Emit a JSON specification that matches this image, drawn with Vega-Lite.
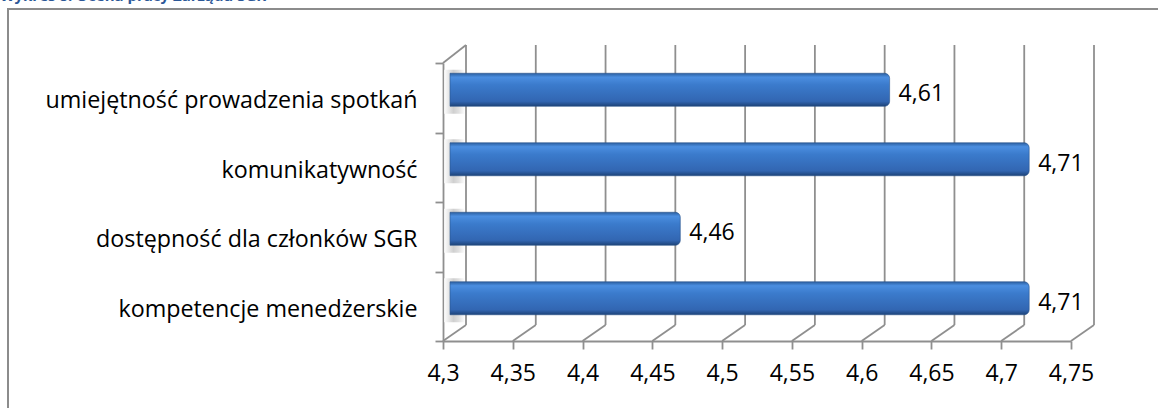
{
  "$schema": "https://vega.github.io/schema/vega-lite/v6.json",
  "width": 1160,
  "height": 410,
  "autosize": {"type": "none"},
  "padding": {"left": 8, "top": 9, "right": 0, "bottom": 0},
  "title": {
    "text": "Wykres 8. Ocena pracy Zarządu SGR",
    "anchor": "start",
    "frame": "group",
    "orient": "top",
    "offset": -22,
    "dx": -8,
    "baseline": "bottom",
    "font": "Open Sans",
    "fontSize": 15,
    "fontWeight": "bold",
    "color": "#2b5797"
  },
  "datasets": {
    "main": [
      {"kryterium": "umiejętność prowadzenia spotkań", "ocena": 4.61},
      {"kryterium": "komunikatywność", "ocena": 4.71},
      {"kryterium": "dostępność dla członków SGR", "ocena": 4.46},
      {"kryterium": "kompetencje menedżerskie", "ocena": 4.71}
    ],
    "ticks": [
      {"t": 4.3}, {"t": 4.35}, {"t": 4.4}, {"t": 4.45}, {"t": 4.5},
      {"t": 4.55}, {"t": 4.6}, {"t": 4.65}, {"t": 4.7}, {"t": 4.75}
    ]
  },
  "config": {
    "view": {"stroke": "#8c8c8c", "strokeWidth": 2},
    "font": "Open Sans",
    "locale": {"number": {"decimal": ",", "thousands": " ", "grouping": [3], "currency": ["", " zł"]}}
  },
  "layer": [
    {
      "data": {"name": "ticks"},
      "mark": {"type": "rule", "color": "#8f8f8f", "strokeWidth": 1.8, "xOffset": 23, "yOffset": -52.75, "y2Offset": 18.75},
      "encoding": {
        "x": {"field": "t", "type": "quantitative", "title": null},
        "y": {"datum": "umiejętność prowadzenia spotkań"},
        "y2": {"datum": "kompetencje menedżerskie"}
      }
    },
    {
      "data": {"name": "ticks"},
      "mark": {"type": "rule", "color": "#8f8f8f", "strokeWidth": 1.8, "x2Offset": 23, "yOffset": 34.75, "y2Offset": 18.75},
      "encoding": {
        "x": {"field": "t", "type": "quantitative", "title": null},
        "x2": {"field": "t"},
        "y": {"datum": "kompetencje menedżerskie"},
        "y2": {"datum": "kompetencje menedżerskie"}
      }
    },
    {
      "data": {"name": "ticks"},
      "transform": [{"filter": "datum.t == 4.3"}],
      "mark": {"type": "rule", "color": "#8f8f8f", "strokeWidth": 1.8, "x2Offset": 23, "yOffset": -34.75, "y2Offset": -52.75},
      "encoding": {
        "x": {"field": "t", "type": "quantitative", "title": null},
        "x2": {"field": "t"},
        "y": {"datum": "umiejętność prowadzenia spotkań"},
        "y2": {"datum": "umiejętność prowadzenia spotkań"}
      }
    },
    {
      "data": {"name": "main"},
      "mark": {
        "type": "bar",
        "size": 44,
        "yOffset": -6,
        "xOffset": 1,
        "x2Offset": 22,
        "fill": {
          "gradient": "linear",
          "x1": 0, "y1": 0, "x2": 1, "y2": 0,
          "stops": [
            {"offset": 0, "color": "#ffffff"},
            {"offset": 0.45, "color": "#c4c4c4"},
            {"offset": 0.7, "color": "#d8d8d8"},
            {"offset": 1, "color": "#ffffff"}
          ]
        },
        "fillOpacity": 0.8
      },
      "encoding": {
        "y": {"field": "kryterium", "type": "nominal", "title": null},
        "x": {"datum": 4.3, "type": "quantitative"},
        "x2": {"datum": 4.3}
      }
    },
    {
      "data": {"name": "main"},
      "mark": {
        "type": "bar",
        "size": 33,
        "yOffset": -8,
        "xOffset": 14,
        "x2Offset": 7,
        "cornerRadiusTopRight": 5,
        "cornerRadiusBottomRight": 5,
        "fill": {
          "gradient": "linear",
          "x1": 0, "y1": 0, "x2": 0, "y2": 1,
          "stops": [
            {"offset": 0, "color": "#2b5fa0"},
            {"offset": 0.12, "color": "#4b8ee0"},
            {"offset": 0.35, "color": "#3b7bcc"},
            {"offset": 0.85, "color": "#3266b2"},
            {"offset": 1, "color": "#1d4378"}
          ]
        },
        "stroke": "#2a548c",
        "strokeWidth": 0.6
      },
      "encoding": {
        "y": {
          "field": "kryterium",
          "type": "nominal",
          "title": null,
          "scale": {
            "domain": ["umiejętność prowadzenia spotkań", "komunikatywność", "dostępność dla członków SGR", "kompetencje menedżerskie"],
            "range": [54, 332],
            "paddingInner": 0,
            "paddingOuter": 0
          },
          "axis": {
            "orient": "left",
            "offset": -435,
            "tickBand": "extent",
            "tickSize": 8,
            "tickColor": "#8f8f8f",
            "tickWidth": 1.8,
            "domainColor": "#8f8f8f",
            "domainWidth": 1.8,
            "labelFont": "Open Sans",
            "labelFontSize": 23.3,
            "labelColor": "#000000",
            "labelPadding": 18,
            "labelLimit": 600,
            "labelOffset": 3,
            "grid": false
          }
        },
        "x": {
          "field": "ocena",
          "type": "quantitative",
          "title": null,
          "scale": {"domain": [4.3, 4.75], "range": [435, 1063], "nice": false, "zero": false},
          "axis": {
            "orient": "bottom",
            "offset": -78,
            "values": [4.3, 4.35, 4.4, 4.45, 4.5, 4.55, 4.6, 4.65, 4.7, 4.75],
            "labelExpr": "replace(format(datum.value, '.2~f'), '.', ',')",
            "tickSize": 8,
            "tickColor": "#8f8f8f",
            "tickWidth": 1.8,
            "domainColor": "#8f8f8f",
            "domainWidth": 1.8,
            "labelFont": "Open Sans",
            "labelFontSize": 23,
            "labelColor": "#000000",
            "labelPadding": 13,
            "labelFlush": false,
            "labelOverlap": false,
            "grid": false
          }
        },
        "x2": {"datum": 4.3}
      }
    },
    {
      "data": {"name": "main"},
      "mark": {"type": "text", "align": "left", "baseline": "middle", "xOffset": 23, "yOffset": -3.5, "font": "Open Sans", "fontSize": 23, "color": "#000000"},
      "encoding": {
        "y": {"field": "kryterium", "type": "nominal", "title": null},
        "x": {"field": "ocena", "type": "quantitative", "title": null},
        "text": {"field": "ocena", "type": "quantitative", "format": ".2f"}
      }
    }
  ]
}
